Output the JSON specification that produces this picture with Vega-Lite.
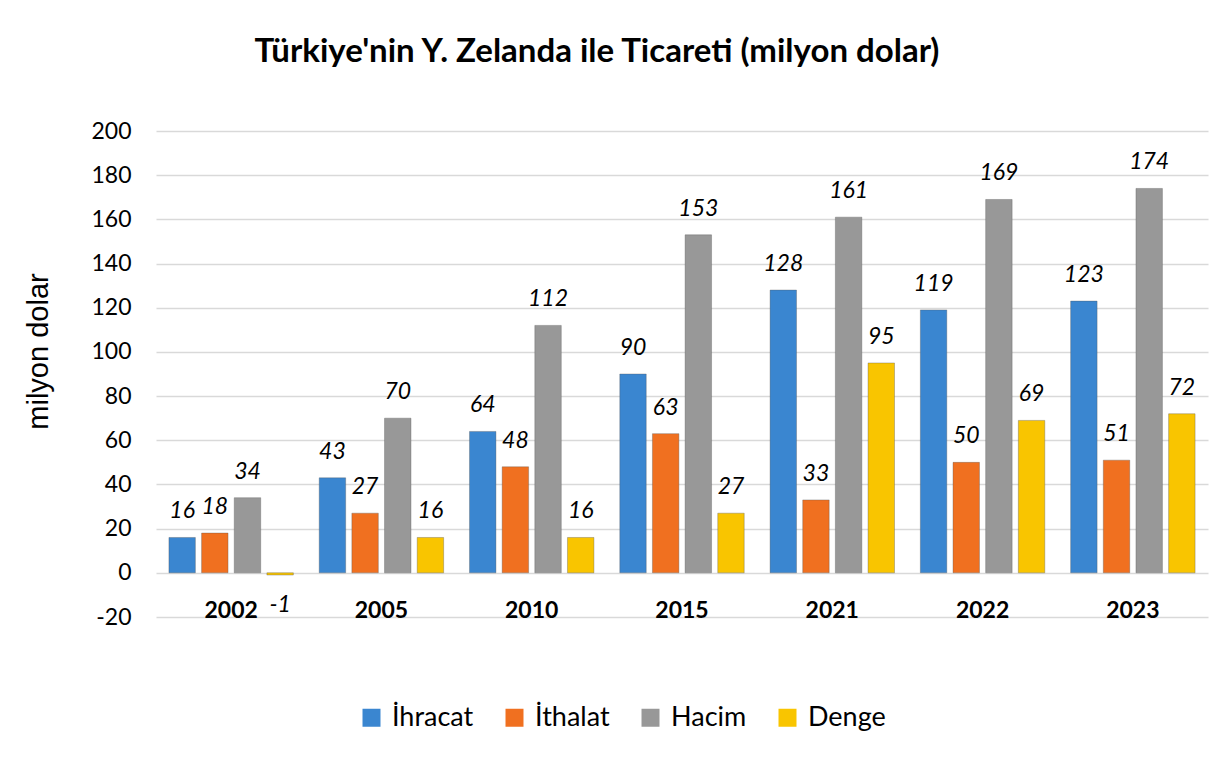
{
  "$schema": "https://vega.github.io/schema/vega-lite/v6.json",
  "width": 1052,
  "height": 486,
  "autosize": {"type": "none"},
  "padding": {"left": 156, "top": 131, "right": 11, "bottom": 141},
  "background": "white",
  "config": {"view": {"stroke": null}, "font": "Lato"},
  "title": {
    "text": "Türkiye'nin Y. Zelanda ile Ticareti (milyon dolar)",
    "font": "Lato",
    "fontSize": 33,
    "fontWeight": "bold",
    "color": "#000000",
    "anchor": "middle",
    "frame": "group",
    "dx": -85,
    "offset": 25,
    "baseline": "alphabetic"
  },
  "data": {
    "values": [
      {"year": "2002", "series": "İhracat", "value": 16},
      {"year": "2002", "series": "İthalat", "value": 18},
      {"year": "2002", "series": "Hacim", "value": 34},
      {"year": "2002", "series": "Denge", "value": -1},
      {"year": "2005", "series": "İhracat", "value": 43},
      {"year": "2005", "series": "İthalat", "value": 27},
      {"year": "2005", "series": "Hacim", "value": 70},
      {"year": "2005", "series": "Denge", "value": 16},
      {"year": "2010", "series": "İhracat", "value": 64},
      {"year": "2010", "series": "İthalat", "value": 48},
      {"year": "2010", "series": "Hacim", "value": 112},
      {"year": "2010", "series": "Denge", "value": 16},
      {"year": "2015", "series": "İhracat", "value": 90},
      {"year": "2015", "series": "İthalat", "value": 63},
      {"year": "2015", "series": "Hacim", "value": 153},
      {"year": "2015", "series": "Denge", "value": 27},
      {"year": "2021", "series": "İhracat", "value": 128},
      {"year": "2021", "series": "İthalat", "value": 33},
      {"year": "2021", "series": "Hacim", "value": 161},
      {"year": "2021", "series": "Denge", "value": 95},
      {"year": "2022", "series": "İhracat", "value": 119},
      {"year": "2022", "series": "İthalat", "value": 50},
      {"year": "2022", "series": "Hacim", "value": 169},
      {"year": "2022", "series": "Denge", "value": 69},
      {"year": "2023", "series": "İhracat", "value": 123},
      {"year": "2023", "series": "İthalat", "value": 51},
      {"year": "2023", "series": "Hacim", "value": 174},
      {"year": "2023", "series": "Denge", "value": 72}
    ]
  },
  "encoding": {
    "x": {
      "field": "year",
      "type": "nominal",
      "sort": ["2002", "2005", "2010", "2015", "2021", "2022", "2023"],
      "scale": {"paddingInner": 0.172, "paddingOuter": 0.086},
      "axis": {
        "title": null,
        "labelAngle": 0,
        "labelFont": "Lato",
        "labelFontSize": 23,
        "labelFontWeight": "bold",
        "labelColor": "#000000",
        "labelBaseline": "alphabetic",
        "labelPadding": 0,
        "ticks": false,
        "tickSize": 0,
        "domain": false,
        "grid": false
      }
    },
    "xOffset": {
      "field": "series",
      "type": "nominal",
      "sort": ["İhracat", "İthalat", "Hacim", "Denge"],
      "scale": {"paddingInner": 0.19, "paddingOuter": 0}
    },
    "y": {
      "field": "value",
      "type": "quantitative",
      "scale": {"domain": [-20, 200], "nice": false, "zero": false},
      "axis": {
        "values": [-20, 0, 20, 40, 60, 80, 100, 120, 140, 160, 180, 200],
        "labelExpr": "replace(datum.label, '−', '-')",
        "title": "milyon dolar",
        "titleFont": "Liberation Sans",
        "titleFontSize": 29,
        "titleFontWeight": "normal",
        "titleColor": "#000000",
        "titleX": -118,
        "titleY": 220,
        "titleAngle": -90,
        "titleAlign": "center",
        "titleBaseline": "middle",
        "labelFont": "Lato",
        "labelFontSize": 23,
        "labelColor": "#000000",
        "labelPadding": 25,
        "ticks": false,
        "domain": false,
        "gridColor": "#D9D9D9",
        "gridWidth": 1.5
      }
    }
  },
  "layer": [
    {
      "mark": {"type": "bar", "stroke": "#555555", "strokeOpacity": 0.35, "strokeWidth": 1},
      "encoding": {
        "y2": {"datum": 0},
        "color": {
          "field": "series",
          "type": "nominal",
          "sort": ["İhracat", "İthalat", "Hacim", "Denge"],
          "scale": {
            "domain": ["İhracat", "İthalat", "Hacim", "Denge"],
            "range": ["#3A86D0", "#F07020", "#989898", "#F9C500"]
          },
          "legend": {
            "title": null,
            "orient": "none",
            "legendX": 202,
            "legendY": 573,
            "direction": "horizontal",
            "symbolType": "square",
            "symbolSize": 324,
            "symbolStrokeWidth": 0,
            "symbolOpacity": 1,
            "labelFont": "Lato",
            "labelFontSize": 27,
            "labelColor": "#000000",
            "labelOffset": 7,
            "columnPadding": 27
          }
        }
      }
    },
    {
      "transform": [{"filter": "datum.value >= 0"}],
      "mark": {"type": "text", "baseline": "alphabetic", "dy": -19, "font": "Lato", "fontStyle": "italic", "fontSize": 23, "color": "#000000"},
      "encoding": {"text": {"field": "value", "type": "nominal"}}
    },
    {
      "transform": [{"filter": "datum.value < 0"}],
      "mark": {"type": "text", "baseline": "alphabetic", "dy": 37, "font": "Lato", "fontStyle": "italic", "fontSize": 23, "color": "#000000"},
      "encoding": {"text": {"field": "value", "type": "nominal"}}
    }
  ]
}
